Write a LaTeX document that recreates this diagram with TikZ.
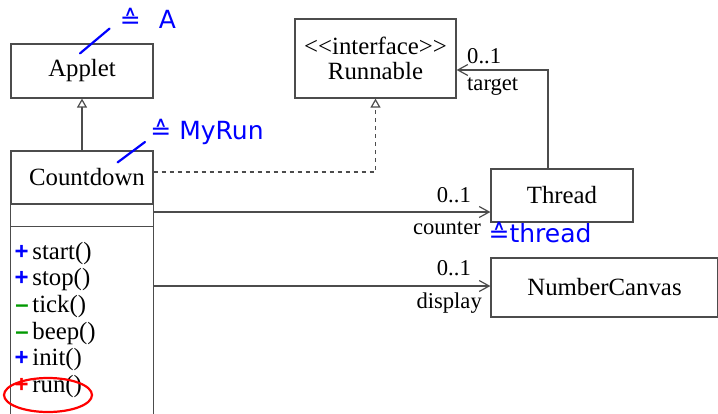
\documentclass[tikz,border=0pt]{standalone}
\usepackage{fontspec}
\setmainfont{Liberation Serif}
\setsansfont{Liberation Sans}
\newfontfamily\notefont{DejaVu Sans}
\usetikzlibrary{arrows.meta}

\tikzset{
  classbox/.style={draw=black!70, line width=0.6pt, inner sep=0pt, align=center,
    font=\fontsize{12.4}{12.5}\selectfont},
  classline/.style={draw=black!70, line width=0.6pt},
  assoc/.style={classline, -{Straight Barb[length=5pt,width=5.5pt]}},
  inherit/.style={classline, -{Triangle[open,length=4.5pt,width=5pt]}},
  realize/.style={inherit, dash pattern=on 2pt off 2pt},
  mult/.style={inner sep=0pt, font=\fontsize{11.3}{12}\selectfont},
  method/.style={inner sep=0pt, anchor=base west, font=\fontsize{12.4}{13}\selectfont},
  signmark/.style={inner sep=0pt, anchor=base east, font=\sffamily\bfseries\fontsize{12}{13}\selectfont},
  hand/.style={blue, line width=1.1pt, line cap=round},
  handtext/.style={blue, inner sep=0pt, font=\notefont\fontsize{12.5}{14}\selectfont},
}

\begin{document}
\begin{tikzpicture}[x=0.5pt, y=-0.5pt]
  \useasboundingbox (0,0) rectangle (718,413);

  % classes
  \node[classbox, minimum width=71pt, minimum height=27pt] (applet) at (82,71) {Applet};
  \node[classbox, minimum width=71pt, minimum height=26.5pt] (countdown) at (82,177.5) {\hspace*{5pt}Countdown};
  \node[classbox, minimum width=80.5pt, minimum height=39.5pt] (runnable) at (375.5,58.5) {{<}{<}interface{>}{>}\\Runnable};
  \node[classbox, minimum width=71pt, minimum height=26.5pt] (thread) at (562,195.5) {Thread};
  \node[classbox, minimum width=113.5pt, minimum height=29.5pt] (canvas) at (604.5,287.5) {NumberCanvas};

  % Countdown compartments
  \draw[classline] (countdown.south west) -- ++(0,215)
                   (countdown.south east) -- ++(0,215);
  \draw[classline] ([yshift=-11pt]countdown.south west) -- ([yshift=-11pt]countdown.south east);
  \coordinate (cdcounter) at (153,212);
  \coordinate (cddisplay) at (153,286);

  \foreach \meth/\sign/\col [count=\i from 0] in
    {start()/+/blue, stop()/+/blue, tick()/--/green!60!black,
     beep()/--/green!60!black, init()/+/blue, run()/+/red}
  {
    \node[method] (m\i) at (32,{259+26.7*\i}) {\meth};
    \node[signmark, text=\col, xshift=-1.5pt] at (m\i.base west) {\sign};
  }
  \draw[red, line width=1.1pt] (48,395) ellipse [x radius=22pt, y radius=8.5pt];

  % relations
  \draw[inherit] (countdown) -- (applet);
  \draw[realize] ([yshift=2.75pt]countdown.east) -| (runnable.south);
  \draw[assoc] ([xshift=-7pt]thread.north) |- ([yshift=-5.75pt]runnable.east)
    node[mult, pos=1, anchor=base west, xshift=5pt, yshift=3.5pt] {0..1}
    node[mult, pos=1, anchor=base west, xshift=5pt, yshift=-10pt] {target};
  \draw[assoc] (cdcounter) -- (cdcounter -| thread.west)
    node[mult, pos=1, anchor=base east, xshift=-9.5pt, yshift=5pt] {0..1}
    node[mult, pos=1, anchor=base east, xshift=-4.5pt, yshift=-11pt] {counter};
  \draw[assoc] (cddisplay) -- (cddisplay -| canvas.west)
    node[mult, pos=1, anchor=base east, xshift=-9.5pt, yshift=5.5pt] {0..1}
    node[mult, pos=1, anchor=base east, xshift=-4pt, yshift=-11pt] {display};

  % notes
  \node[handtext] (noteA) at (148,18) {≙\hspace{9pt}A};
  \draw[hand] ([xshift=-1pt, yshift=-5pt]applet.north) -- ([xshift=-5pt]noteA.south west);
  \node[handtext] (noterun) at (207,132) {≙ MyRun};
  \draw[hand] ([xshift=-18pt, yshift=-6pt]countdown.north east) -- ([xshift=-2.5pt, yshift=-5pt]noterun.west);
  \node[handtext] (notethread) at (540,233) {≙thread};
\end{tikzpicture}
\end{document}
